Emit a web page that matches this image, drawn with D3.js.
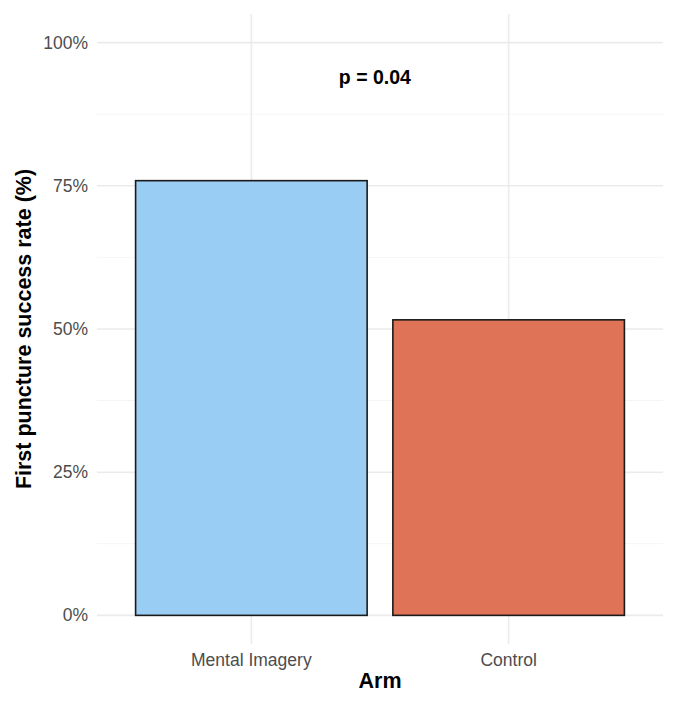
<!DOCTYPE html>
<html>
<head>
<meta charset="utf-8">
<script src="https://cdn.jsdelivr.net/npm/d3@7"></script>
<style>
  body { margin: 0; background: #fff; }
  text { font-family: "Liberation Sans", Arial, sans-serif; }
</style>
</head>
<body>
<div id="chart"></div>
<script>
// data
var arms = ["Mental Imagery", "Control"];
var rates = [0.759, 0.516];
var fills = ["#9ACDF4", "#DF7358"];
var yTicks = [0, 0.25, 0.5, 0.75, 1];
var yMinor = [0.125, 0.375, 0.625, 0.875];
var pLabel = "p = 0.04";

var W = 676, H = 701;
// note: "top" clashes with window.top, so prefix these
var pLeft = 97, pRight = 663, pTop = 14, pBottom = 644;

var svg = d3.select("#chart").append("svg")
  .attr("width", W).attr("height", H);

// ggplot style: continuous y with 5% expansion, discrete x with 0.6 add
var y = d3.scaleLinear().domain([-0.05, 1.05]).range([pBottom, pTop]);
var x = d3.scaleLinear().domain([0.4, 2.6]).range([pLeft, pRight]);
var xc = function (i) { return x(i + 1); };

// grid
svg.selectAll(".minor").data(yMinor).enter().append("line")
  .attr("x1", pLeft).attr("x2", pRight)
  .attr("y1", d => y(d)).attr("y2", d => y(d))
  .attr("stroke", "#f2f2f2").attr("stroke-width", 0.8);

svg.selectAll(".major").data(yTicks).enter().append("line")
  .attr("x1", pLeft).attr("x2", pRight)
  .attr("y1", d => y(d)).attr("y2", d => y(d))
  .attr("stroke", "#ebebeb").attr("stroke-width", 1.6);

svg.selectAll(".vgrid").data(arms).enter().append("line")
  .attr("x1", (d, i) => xc(i)).attr("x2", (d, i) => xc(i))
  .attr("y1", pTop).attr("y2", pBottom)
  .attr("stroke", "#ebebeb").attr("stroke-width", 1.6);

// bars
var bw = x(1.9) - x(1);
svg.selectAll(".bar").data(rates).enter().append("rect")
  .attr("x", (d, i) => xc(i) - bw / 2)
  .attr("width", bw)
  .attr("y", d => y(d))
  .attr("height", d => y(0) - y(d))
  .attr("fill", (d, i) => fills[i])
  .attr("stroke", "#1a1a1a")
  .attr("stroke-width", 1.6);

// y tick labels
svg.selectAll(".ylab").data(yTicks).enter().append("text")
  .attr("x", pLeft - 9).attr("y", d => y(d))
  .attr("dy", "0.35em")
  .attr("text-anchor", "end")
  .attr("font-size", 17.5)
  .attr("fill", "#4d4d4d")
  .text(d3.format(".0%"));

// x tick labels
svg.selectAll(".xlab").data(arms).enter().append("text")
  .attr("x", (d, i) => xc(i)).attr("y", pBottom + 22)
  .attr("text-anchor", "middle")
  .attr("font-size", 17.5)
  .attr("fill", "#4d4d4d")
  .text(d => d);

// axis titles
svg.append("text")
  .attr("x", (pLeft + pRight) / 2).attr("y", 688)
  .attr("text-anchor", "middle")
  .attr("font-size", 21.5).attr("font-weight", "bold")
  .text("Arm");

svg.append("text")
  .attr("transform", "translate(31," + ((pTop + pBottom) / 2) + ") rotate(-90)")
  .attr("text-anchor", "middle")
  .attr("font-size", 21.5).attr("font-weight", "bold")
  .text("First puncture success rate (%)");

// p value annotation
svg.append("text")
  .attr("x", x(1.48)).attr("y", y(0.94))
  .attr("dy", "0.35em")
  .attr("text-anchor", "middle")
  .attr("font-size", 19.5).attr("font-weight", "bold")
  .text(pLabel);
</script>
</body>
</html>
